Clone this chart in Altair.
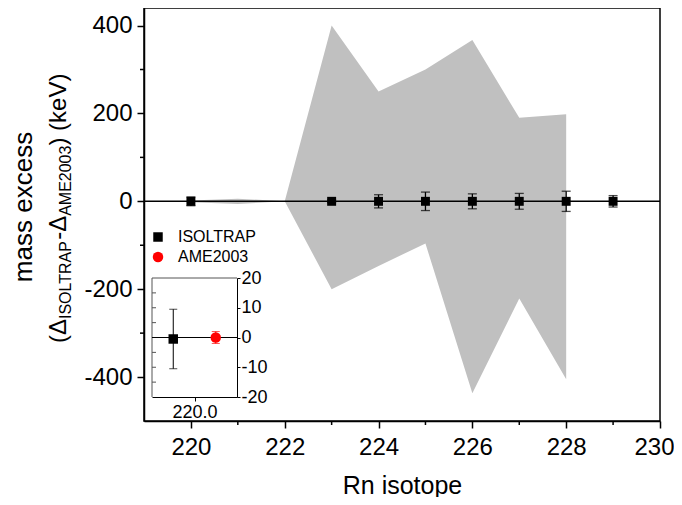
import altair as alt
import pandas as pd

# ---------------- data ----------------
band_x = [220, 221, 222, 223, 224, 225, 226, 227, 228]
band_hi = [2, 6, 0, 400, 250, 300, 367, 190, 198]
band_lo = [-2, -6, 0, -200, -147, -96, -437, -221, -405]

iso_x = [220, 223, 224, 225, 226, 227, 228, 229]
iso_y = [0, 0, 0, 0, 0, 0, 0, 0]
iso_err = [10, 3, 15, 21, 17, 18, 23, 13]

inset_series = ["ISOLTRAP", "AME2003"]
inset_x = [219.925, 220.075]
inset_y = [-0.5, 0.0]
inset_err = [10.0, 2.0]

x_major = [220, 222, 224, 226, 228, 230]
x_minor = [221, 223, 225, 227, 229]
y_major = [-400, -200, 0, 200, 400]
y_minor = [-300, -100, 100, 300]
inset_y_ticks = [-20, -10, 0, 10, 20]
inset_y_minor = [-15, -10, -5, 5, 10, 15]
inset_x_ticks = [220.0]

series_names = ["ISOLTRAP", "AME2003"]
series_colors = ["#000000", "#ff0000"]
series_shapes = ["square", "circle"]

FONT = "Liberation Sans"
W, H = 516, 413

# ---------------- tables ----------------
band_df = pd.DataFrame({"x": band_x, "lo": band_lo, "hi": band_hi})
iso_df = pd.DataFrame({
    "x": iso_x, "y": iso_y,
    "lo": [v - e for v, e in zip(iso_y, iso_err)],
    "hi": [v + e for v, e in zip(iso_y, iso_err)],
    "series": ["ISOLTRAP"] * len(iso_x),
})
inset_df = pd.DataFrame({
    "ix": inset_x, "iy": inset_y,
    "lo": [v - e for v, e in zip(inset_y, inset_err)],
    "hi": [v + e for v, e in zip(inset_y, inset_err)],
    "series": inset_series,
})
one = pd.DataFrame({"a": [0]})

# ---------------- scales / axes ----------------
main_x = alt.Scale(domain=[219, 230], nice=False, zero=False)
main_y = alt.Scale(domain=[-500, 440], nice=False, zero=False)
x_axis = alt.Axis(values=x_major, title="Rn isotope", grid=False, tickSize=7,
                  labelFontSize=24, titleFontSize=25, labelPadding=7,
                  titlePadding=14, labelFlush=True, labelFlushOffset=14,
                  labelExpr="datum.value + ''", titleFontWeight="normal")
y_axis = alt.Axis(values=y_major, title=None, grid=False, tickSize=7,
                  labelFontSize=24, labelPadding=5, labelFlush=False,
                  labelExpr="datum.value + ''")

color_scale = alt.Scale(domain=series_names, range=series_colors)
shape_scale = alt.Scale(domain=series_names, range=series_shapes)
legend = alt.Legend(title=None, orient="none", legendX=6, legendY=221,
                    labelFontSize=16, symbolSize=64, rowPadding=4,
                    labelOffset=12, padding=0, labelColor="black",
                    symbolOpacity=1, symbolStrokeWidth=0)

X = alt.X("x:Q", scale=main_x, axis=x_axis)

band = alt.Chart(band_df).mark_area(color="#c0c0c0", opacity=1).encode(
    x=X, y=alt.Y("lo:Q", scale=main_y, axis=y_axis), y2="hi:Q")

zero = alt.Chart(one).mark_rule(color="black", strokeWidth=1.5).encode(
    y=alt.YDatum(0, scale=main_y, axis=y_axis))

err = alt.Chart(iso_df).mark_rule(color="black", strokeWidth=1.3).encode(
    x=X, y=alt.Y("lo:Q", scale=main_y, axis=y_axis), y2="hi:Q")
cap_lo = alt.Chart(iso_df).mark_tick(orient="horizontal", color="black", size=9, thickness=1.3).encode(
    x=X, y=alt.Y("lo:Q", scale=main_y, axis=y_axis))
cap_hi = alt.Chart(iso_df).mark_tick(orient="horizontal", color="black", size=9, thickness=1.3).encode(
    x=X, y=alt.Y("hi:Q", scale=main_y, axis=y_axis))
pts = alt.Chart(iso_df).mark_point(filled=True, size=80, opacity=1).encode(
    x=X, y=alt.Y("y:Q", scale=main_y, axis=y_axis),
    color=alt.Color("series:N", scale=color_scale, legend=legend),
    shape=alt.Shape("series:N", scale=shape_scale, legend=legend))

xminor = alt.Chart(pd.DataFrame({"x": x_minor})).mark_rule(color="black", strokeWidth=1.5).encode(
    x=X, y=alt.value(H), y2=alt.value(H + 4))
yminor = alt.Chart(pd.DataFrame({"y": y_minor})).mark_rule(color="black", strokeWidth=1.5).encode(
    y=alt.Y("y:Q", scale=main_y, axis=y_axis), x=alt.value(-4), x2=alt.value(0))

# ---------------- y-axis title with subscripts ----------------
ADV = {"(": 333, ")": 333, " ": 278, "Δ": 667, "-": 333, "I": 278, "S": 667, "O": 778,
       "L": 556, "T": 611, "R": 722, "A": 667, "P": 667, "M": 833, "E": 667,
       "0": 556, "2": 556, "3": 556, "k": 500, "e": 556, "V": 667}


def tw(s, fs):
    return sum(ADV.get(c, 556) for c in s) / 1000 * fs


title_layers = [
    alt.Chart(one).mark_text(text="mass excess", angle=270, align="center",
                             baseline="alphabetic", fontSize=26, font=FONT, color="black")
    .encode(x=alt.value(-112), y=alt.value(199))
]
pieces = [("(Δ", False), ("ISOLTRAP", True), ("-Δ", False), ("AME2003", True), (") (keV)", False)]
NORM, SUB = 24, 16
ypos = 335
for txt, sub in pieces:
    fs = SUB if sub else NORM
    title_layers.append(
        alt.Chart(one).mark_text(text=txt, angle=270, align="left", baseline="alphabetic",
                                 fontSize=fs, font=FONT, color="black")
        .encode(x=alt.value(-73 if sub else -78), y=alt.value(ypos)))
    ypos -= tw(txt, fs)

main = alt.layer(band, zero, err, cap_lo, cap_hi, xminor, yminor, pts, *title_layers)

# ---------------- inset ----------------
IL, IR, IT, IB = 8, 93, 270, 389
in_x = alt.Scale(domain=[219.85, 220.15], range=[IL, IR], nice=False, zero=False)
in_y = alt.Scale(domain=[-20, 20], range=[IB, IT], nice=False, zero=False)
in_x_axis = alt.Axis(orient="bottom", offset=-(H - IB), values=inset_x_ticks, title=None,
                     grid=False, tickSize=4, labelFontSize=18, labelPadding=2,
                     labelFlush=False, labelExpr="format(datum.value, '.1f')",
                     domainWidth=1, tickWidth=1)
in_y_axis = alt.Axis(orient="right", offset=-(W - IR), values=inset_y_ticks, title=None,
                     grid=False, tickSize=3, labelFontSize=18, labelPadding=1,
                     labelFlush=False, labelExpr="datum.value + ''",
                     domainWidth=1, tickWidth=1)
IX = alt.X("ix:Q", scale=in_x, axis=in_x_axis)

frame_df = pd.DataFrame({"lo": [-20], "hi": [20]})
in_left = alt.Chart(frame_df).mark_rule(color="#555555", strokeWidth=1).encode(
    x=alt.value(IL), y=alt.Y("lo:Q", scale=in_y, axis=in_y_axis), y2="hi:Q")
in_top = alt.Chart(frame_df).mark_rule(color="#555555", strokeWidth=1).encode(
    y=alt.Y("hi:Q", scale=in_y, axis=in_y_axis), x=alt.value(IL), x2=alt.value(IR))
in_ticks = alt.Chart(pd.DataFrame({"iy": inset_y_minor})).mark_rule(color="#555555", strokeWidth=1).encode(
    y=alt.Y("iy:Q", scale=in_y, axis=in_y_axis), x=alt.value(IL), x2=alt.value(IL + 4))
in_zero = alt.Chart(one).mark_rule(color="black", strokeWidth=1.2).encode(
    y=alt.YDatum(0, scale=in_y, axis=in_y_axis), x=alt.value(IL), x2=alt.value(IR))
in_err = alt.Chart(inset_df).mark_rule(strokeWidth=1).encode(
    x=IX, y=alt.Y("lo:Q", scale=in_y, axis=in_y_axis), y2="hi:Q",
    color=alt.Color("series:N", scale=color_scale, legend=legend))
in_cap_lo = alt.Chart(inset_df).mark_tick(orient="horizontal", size=8, thickness=1).encode(
    x=IX, y=alt.Y("lo:Q", scale=in_y, axis=in_y_axis),
    color=alt.Color("series:N", scale=color_scale, legend=legend))
in_cap_hi = alt.Chart(inset_df).mark_tick(orient="horizontal", size=8, thickness=1).encode(
    x=IX, y=alt.Y("hi:Q", scale=in_y, axis=in_y_axis),
    color=alt.Color("series:N", scale=color_scale, legend=legend))
in_pts = alt.Chart(inset_df).mark_point(filled=True, opacity=1).encode(
    x=IX, y=alt.Y("iy:Q", scale=in_y, axis=in_y_axis),
    color=alt.Color("series:N", scale=color_scale, legend=legend),
    shape=alt.Shape("series:N", scale=shape_scale, legend=legend),
    size=alt.Size("series:N", scale=alt.Scale(domain=series_names, range=[90, 110]), legend=None))

inset = alt.layer(in_left, in_top, in_ticks, in_zero, in_err, in_cap_lo, in_cap_hi, in_pts)

chart = alt.layer(main, inset).resolve_scale(x="independent", y="independent").properties(
    width=W, height=H,
    padding={"left": 136, "top": 0, "right": 14, "bottom": 76},
    autosize=alt.AutoSizeParams(type="none"),
).configure(font=FONT).configure_view(stroke="black", strokeWidth=1.5).configure_axis(
    domainColor="black", domainWidth=1.5, tickColor="black", tickWidth=1.5,
    labelColor="black", titleColor="black", labelFont=FONT, titleFont=FONT,
).configure_legend(labelFont=FONT)

chart.save("out.html", embed_options={"renderer": "svg", "actions": False})
